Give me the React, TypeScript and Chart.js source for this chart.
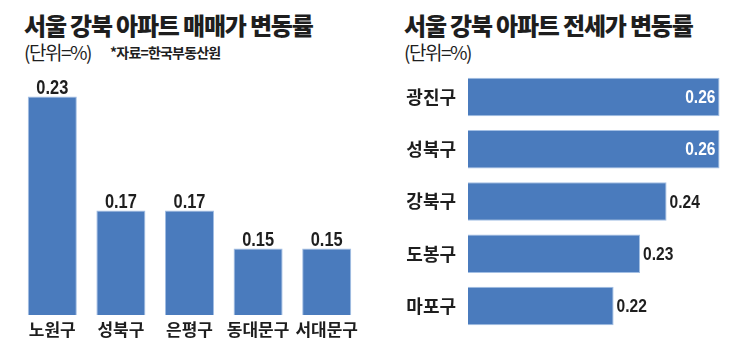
import React, { useEffect, useRef } from "react";
import { Chart, registerables } from "chart.js";

Chart.register(...registerables);

const leftTitle = "서울 강북 아파트 매매가 변동률";
const leftUnit = "(단위=%)";
const leftSource = "*자료=한국부동산원";
const saleDistricts = ["노원구", "성북구", "은평구", "동대문구", "서대문구"];
const saleValues = [0.23, 0.17, 0.17, 0.15, 0.15];

const rightTitle = "서울 강북 아파트 전세가 변동률";
const rightUnit = "(단위=%)";
const jeonseDistricts = ["광진구", "성북구", "강북구", "도봉구", "마포구"];
const jeonseValues = [0.26, 0.26, 0.24, 0.23, 0.22];

const BAR = "#4a7bbd";
const BAR_EDGE = "#a3bfe4";
const TEXT = "#1e1e1e";
const KR = "'Noto Sans CJK KR', 'Noto Sans', sans-serif";
const NUM = "'Liberation Sans Narrow', 'Liberation Sans', Arial, sans-serif";
const NUM_SQUEEZE = 0.82;

function drawSqueezed(ctx: any, txt: string, x: number, y: number, align: string) {
  ctx.save();
  ctx.translate(x, y);
  ctx.scale(NUM_SQUEEZE, 1);
  ctx.textAlign = align;
  ctx.fillText(txt, 0, 0);
  ctx.restore();
}

const vLabelPlugin = {
  id: "vLabels",
  afterDatasetsDraw(chart: any) {
    const ctx = chart.ctx;
    const meta = chart.getDatasetMeta(0);
    const data = chart.data.datasets[0].data as number[];
    ctx.save();
    ctx.font = `bold 20px ${NUM}`;
    ctx.fillStyle = TEXT;
    ctx.textBaseline = "alphabetic";
    meta.data.forEach((el: any, i: number) => {
      drawSqueezed(ctx, data[i].toFixed(2), el.x, el.y - 3, "center");
    });
    ctx.restore();
  },
};

const hLabelPlugin = {
  id: "hLabels",
  afterDatasetsDraw(chart: any) {
    const ctx = chart.ctx;
    const meta = chart.getDatasetMeta(0);
    const data = chart.data.datasets[0].data as number[];
    const maxV = Math.max(...data);
    ctx.save();
    ctx.font = `bold 19px ${NUM}`;
    ctx.textBaseline = "middle";
    meta.data.forEach((el: any, i: number) => {
      const txt = data[i].toFixed(2);
      if (data[i] >= maxV) {
        ctx.fillStyle = "#ffffff";
        drawSqueezed(ctx, txt, el.x - 4, el.y + 1, "right");
      } else {
        ctx.fillStyle = TEXT;
        drawSqueezed(ctx, txt, el.x + 3, el.y + 1, "left");
      }
    });
    ctx.restore();
  },
};

function LeftChart() {
  const ref = useRef<HTMLCanvasElement>(null);
  useEffect(() => {
    const chart = new Chart(ref.current!, {
      type: "bar",
      data: {
        labels: saleDistricts,
        datasets: [
          {
            data: saleValues,
            backgroundColor: BAR,
            borderColor: BAR_EDGE,
            borderWidth: 1,
            categoryPercentage: 1,
            barPercentage: 0.715,
          },
        ],
      },
      options: {
        animation: false,
        responsive: false,
        maintainAspectRatio: false,
        layout: { padding: { top: 77.5, left: 18, right: 19, bottom: 0 } },
        plugins: { legend: { display: false }, tooltip: { enabled: false } },
        scales: {
          y: { display: false, min: 0.115, max: 0.24 },
          x: {
            grid: { display: false, drawTicks: false },
            border: { display: false },
            afterFit: (s: any) => {
              s.height = 40;
            },
            ticks: {
              autoSkip: false,
              maxRotation: 0,
              padding: 4,
              color: TEXT,
              font: { family: KR, size: 17, weight: "bold" },
            },
          },
        },
      },
      plugins: [vLabelPlugin],
    });
    return () => chart.destroy();
  }, []);
  return (
    <canvas
      ref={ref}
      width={380}
      height={355}
      style={{ position: "absolute", left: 0, top: 0, width: 380, height: 355 }}
    />
  );
}

function RightChart() {
  const ref = useRef<HTMLCanvasElement>(null);
  useEffect(() => {
    const chart = new Chart(ref.current!, {
      type: "bar",
      data: {
        labels: jeonseDistricts,
        datasets: [
          {
            data: jeonseValues,
            backgroundColor: BAR,
            borderColor: BAR_EDGE,
            borderWidth: 1,
            categoryPercentage: 1,
            barPercentage: 0.735,
          },
        ],
      },
      options: {
        indexAxis: "y",
        animation: false,
        responsive: false,
        maintainAspectRatio: false,
        layout: { padding: { top: 70.8, left: 0, right: 1, bottom: 12.3 } },
        plugins: { legend: { display: false }, tooltip: { enabled: false } },
        scales: {
          x: { display: false, min: 0.165, max: 0.27 },
          y: {
            grid: { display: false, drawTicks: false },
            border: { display: false },
            afterFit: (s: any) => {
              s.width = 88;
            },
            ticks: {
              autoSkip: false,
              padding: 12,
              color: TEXT,
              font: { family: KR, size: 18, weight: "bold" },
            },
          },
        },
      },
      plugins: [hLabelPlugin],
    });
    return () => chart.destroy();
  }, []);
  return (
    <canvas
      ref={ref}
      width={367}
      height={355}
      style={{ position: "absolute", left: 380, top: 0, width: 367, height: 355 }}
    />
  );
}

const titleStyle: React.CSSProperties = {
  position: "absolute",
  top: 10,
  margin: 0,
  fontFamily: KR,
  fontWeight: 900,
  fontSize: 24,
  lineHeight: "30px",
  letterSpacing: "-1.2px",
  color: TEXT,
  whiteSpace: "nowrap",
};

const unitStyle: React.CSSProperties = {
  position: "absolute",
  top: 39,
  fontFamily: KR,
  fontWeight: 400,
  fontSize: 19,
  lineHeight: "26px",
  letterSpacing: "-1.5px",
  color: TEXT,
  whiteSpace: "nowrap",
};

export default function App() {
  return (
    <div
      style={{
        position: "absolute",
        left: 0,
        top: 0,
        width: 747,
        height: 355,
        background: "#ffffff",
        overflow: "hidden",
      }}
    >
      <div style={{ ...titleStyle, left: 24 }}>{leftTitle}</div>
      <div style={{ ...unitStyle, left: 24 }}>{leftUnit}</div>
      <div
        style={{
          ...unitStyle,
          left: 110,
          top: 42,
          fontSize: 14,
          lineHeight: "20px",
          fontWeight: 700,
          letterSpacing: "-0.8px",
        }}
      >
        {leftSource}
      </div>
      <div style={{ ...titleStyle, left: 404 }}>{rightTitle}</div>
      <div style={{ ...unitStyle, left: 404 }}>{rightUnit}</div>
      <LeftChart />
      <RightChart />
    </div>
  );
}
